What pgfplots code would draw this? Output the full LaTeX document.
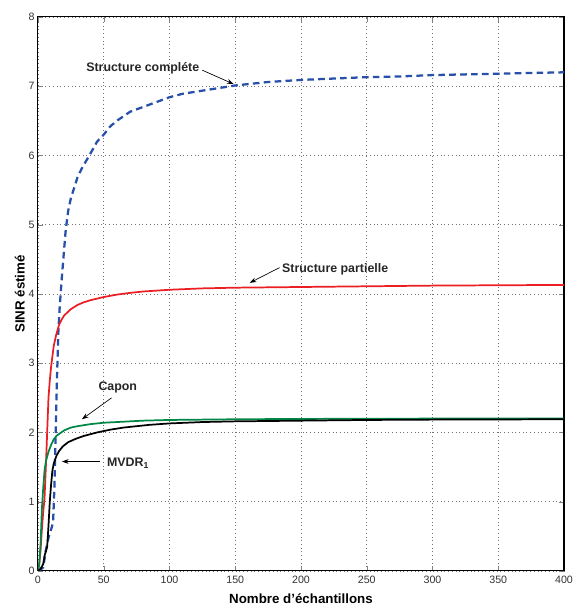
\documentclass[border=0pt]{standalone}
\usepackage{fontspec}
\setmainfont{Liberation Sans}
\usepackage{pgfplots}
\pgfplotsset{compat=1.18}
\usetikzlibrary{arrows.meta}
\definecolor{cblue}{RGB}{40,80,170}
\definecolor{cred}{RGB}{235,30,35}
\definecolor{cgreen}{RGB}{0,135,70}
\begin{document}
\begin{tikzpicture}
\begin{axis}[
  name=ax,
  scale only axis,
  width=395pt, height=416pt,
  xmin=0, xmax=400, ymin=0, ymax=8,
  xtick={0,50,...,400}, ytick={0,1,...,8},
  tick align=inside,
  tick pos=both,
  major tick length=4pt,
  grid=major,
  grid style={dash pattern=on 0.6pt off 2.2pt, black!55, line width=0.6pt},
  axis line style={line width=0.8pt},
  /pgf/number format/assume math mode=true,
  tick label style={font=\fontsize{8}{9}\selectfont, text=black!80},
  xticklabel style={yshift=0pt},
  yticklabel style={xshift=1pt},
  xlabel={\bfseries Nombre d’échantillons},
  ylabel={\bfseries SINR éstimé},
  label style={font=\fontsize{10}{12}\selectfont\bfseries},
  xlabel style={yshift=-1pt},
  ylabel style={yshift=-4pt},
]
\addplot[cblue, line width=1.7pt, dash pattern=on 5pt off 3.2pt] coordinates {
(0,0) (2,0.02) (4,0.05) (6,0.3) (8,0.48) (10,0.6) (11.5,0.7) (12.5,1.2) (13.5,2.0) (14.5,2.8) (15.5,3.45) (16.5,3.8) (18,4.2) (19.5,4.55) (21,4.9) (23,5.2) (25,5.38) (27,5.5) (30,5.68) (33,5.8) (36,5.9) (40,6.03) (45,6.2) (50,6.3) (55,6.42) (60,6.5) (70,6.63) (80,6.7) (90,6.77) (100,6.84) (110,6.89) (120,6.92) (130,6.95) (140,6.98) (150,7.01) (175,7.06) (200,7.09) (225,7.11) (250,7.13) (275,7.14) (300,7.16) (325,7.17) (350,7.18) (375,7.19) (400,7.2)
};
\addplot[cred, line width=1.3pt] coordinates {
(0,0) (1,0.1) (2,0.3) (3,0.6) (4,0.85) (5,1.05) (6,1.5) (7,2.0) (8,2.5) (9,2.75) (10,2.95) (12,3.25) (14,3.42) (16,3.55) (18,3.63) (20,3.69) (25,3.78) (30,3.84) (35,3.88) (40,3.91) (50,3.955) (60,3.99) (70,4.015) (80,4.035) (100,4.06) (125,4.08) (150,4.09) (200,4.1) (250,4.11) (300,4.12) (350,4.125) (400,4.13)
};
\addplot[cgreen, line width=1.3pt] coordinates {
(0,0) (1,0.1) (2,0.4) (3,0.9) (4,1.2) (5,1.45) (6,1.58) (8,1.72) (10,1.82) (12,1.9) (14,1.95) (17,1.99) (20,2.03) (25,2.07) (30,2.09) (40,2.12) (50,2.14) (60,2.15) (80,2.17) (100,2.18) (150,2.19) (200,2.195) (300,2.2) (400,2.2)
};
\addplot[black, line width=1.3pt] coordinates {
(0,0) (2,0.03) (4,0.1) (5,0.22) (6,0.28) (7,0.35) (8,0.65) (9,1.0) (10,1.25) (11,1.45) (12,1.55) (14,1.66) (16,1.73) (19,1.8) (23,1.86) (29,1.91) (35,1.95) (45,2.0) (55,2.04) (65,2.07) (75,2.09) (85,2.11) (100,2.13) (125,2.15) (150,2.16) (200,2.17) (250,2.18) (300,2.185) (400,2.19)
};
\node[font=\fontsize{9.3}{11}\selectfont\bfseries, text=black!85] at (axis cs:79.7,7.26) {Structure compléte};
\draw[-{Stealth[length=5pt,width=3.5pt]}, line width=0.5pt] (axis cs:125,7.23) -- (axis cs:148.8,7.03);
\node[font=\fontsize{9.3}{11}\selectfont\bfseries, text=black!85] at (axis cs:226,4.35) {Structure partielle};
\draw[-{Stealth[length=5pt,width=3.5pt]}, line width=0.5pt] (axis cs:183.7,4.38) -- (axis cs:161,4.16);
\node[font=\fontsize{9.3}{11}\selectfont\bfseries, text=black!85] at (axis cs:60.7,2.65) {Capon};
\draw[-{Stealth[length=5pt,width=3.5pt]}, line width=0.5pt] (axis cs:56,2.5) -- (axis cs:33.4,2.19);
\node[font=\fontsize{9.3}{11}\selectfont\bfseries, text=black!85, anchor=west] at (axis cs:49,1.55) {MVDR\textsubscript{1}};
\draw[-{Stealth[length=5pt,width=3.5pt]}, line width=0.5pt] (axis cs:47,1.58) -- (axis cs:18.2,1.58);
\end{axis}
\useasboundingbox ([xshift=-28.5pt,yshift=-27pt]ax.south west) rectangle ([xshift=6.75pt,yshift=12.7pt]ax.north east);
\end{tikzpicture}
\end{document}
